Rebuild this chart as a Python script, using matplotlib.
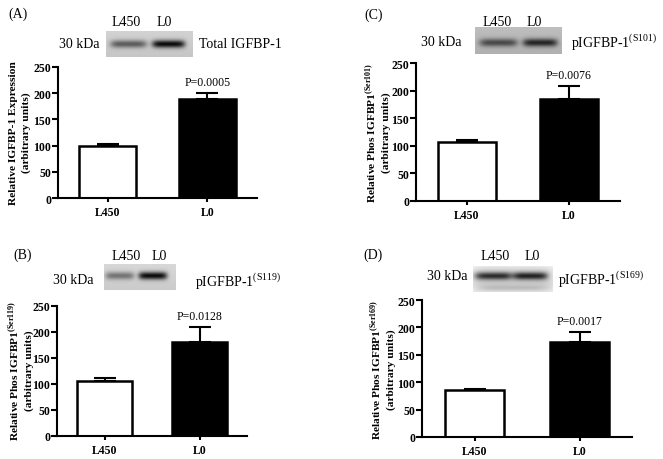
import numpy as np
import matplotlib
matplotlib.use("Agg")
import matplotlib.pyplot as plt

plt.rcParams['font.family'] = ['Liberation Serif', 'DejaVu Serif']
plt.rcParams['mathtext.fontset'] = 'custom'
plt.rcParams['mathtext.rm'] = 'Liberation Serif'
plt.rcParams['mathtext.bf'] = 'Liberation Serif:bold'

# data
groups = ['L450', 'L0']
total_mean = [100, 188]
total_err = [4, 12]
s119_mean = [106, 181]
s119_err = [5, 29]
s101_mean = [107, 184]
s101_err = [3, 25]
s169_mean = [86, 173]
s169_err = [2, 18]
p_values = ['P=0.0005', 'P=0.0128', 'P=0.0076', 'P=0.0017']

# relative band darkness of the western blots (L450, L0)
band_total = [0.55, 0.95]
band_s119 = [0.45, 0.95]
band_s101 = [0.60, 0.80]
band_s169 = [0.80, 0.85]

W, H = 663, 460
fig = plt.figure(figsize=(W / 100, H / 100), dpi=100)


def rect(x0, y0, x1, y1):
    return [x0 / W, 1 - y1 / H, (x1 - x0) / W, (y1 - y0) / H]


def ftext(x, y, s, **kw):
    fig.text(x / W, 1 - y / H, s, **kw)


def draw_blot(box, lanes, bands, bg, band_y=0.5, blur_edges=False):
    x0, y0, x1, y1 = box
    ax = fig.add_axes(rect(x0, y0, x1, y1))
    w, h = int((x1 - x0) * 3), int((y1 - y0) * 3)
    xx, yy = np.meshgrid(np.linspace(0, 1, w), np.linspace(0, 1, h))
    img = np.full((h, w), bg)
    # slightly lighter top, darker bottom
    img += 0.05 * (0.5 - yy)
    for (c, hw), amp in zip(lanes, bands):
        prof = np.exp(-((xx - c) / hw) ** 6) * np.exp(-((yy - band_y) / 0.15) ** 2)
        img -= amp * bg * prof
    if blur_edges:
        img += (1 - img) * (1 - np.exp(-((yy - 0.5) / 0.55) ** 4) * np.exp(-((xx - 0.5) / 0.55) ** 8))
        img -= 0.08 * np.exp(-((yy - 0.85) / 0.1) ** 2) * np.exp(-((xx - 0.5) / 0.4) ** 6)
    ax.imshow(np.clip(img, 0, 1), cmap='gray', vmin=0, vmax=1, aspect='auto',
              interpolation='bilinear')
    ax.set_axis_off()


def draw_bars(box, means, errs, ptxt):
    ax = fig.add_axes(rect(*box))
    x = np.arange(len(groups))
    ax.errorbar(x, means, yerr=[[0, 0], errs], fmt='none', ecolor='black',
                elinewidth=1.5, capsize=8, capthick=1.5, zorder=1)
    ax.bar(x, means, width=0.57, color=['white', 'black'], edgecolor='black',
           linewidth=1.8, zorder=2)
    ax.set_xlim(-0.5, 1.5)
    ax.set_ylim(0, 250)
    ax.set_yticks(range(0, 251, 50))
    ax.set_xticks(x)
    ax.set_xticklabels(groups)
    for sp in ['top', 'right']:
        ax.spines[sp].set_visible(False)
    for sp in ['left', 'bottom']:
        ax.spines[sp].set_linewidth(1.5)
    ax.tick_params(axis='y', length=4, width=1.5, pad=1)
    ax.tick_params(axis='x', length=3, width=1.5, pad=3)
    for lab in ax.get_xticklabels() + ax.get_yticklabels():
        lab.set_fontweight('bold')
        lab.set_fontsize(8.5)
    top = means[1] + errs[1]
    ax.text(1, top + 9, ptxt, ha='center', va='bottom', fontsize=8.5)
    return ax


def ylab(x, y, s):
    ftext(x, y, s, fontsize=8.2, fontweight='bold', rotation=90, ha='center',
          va='center', multialignment='center', linespacing=1.4)


# (A) total IGFBP-1
ftext(8, 14, '(A)', fontsize=10, va='center')
ftext(126, 22, 'L450', fontsize=10, ha='center', va='center')
ftext(164, 22, 'L0', fontsize=10, ha='center', va='center')
ftext(79, 44, '30 kDa', fontsize=10, ha='center', va='center')
ftext(199, 44, 'Total IGFBP-1', fontsize=10, va='center')
draw_blot((106, 32, 193, 58), [(0.26, 0.21), (0.72, 0.19)], band_total, 0.80)
draw_bars((58, 68, 257, 199), total_mean, total_err, p_values[0])
ylab(20, 133, 'Relative IGFBP-1 Expression\n(arbitrary units)')

# (B) S119
ftext(13, 255, '(B)', fontsize=10, va='center')
ftext(126, 256, 'L450', fontsize=10, ha='center', va='center')
ftext(159, 256, 'L0', fontsize=10, ha='center', va='center')
ftext(73, 280, '30 kDa', fontsize=10, ha='center', va='center')
ftext(195, 282, 'pIGFBP-1$^{\\mathrm{(S119)}}$', fontsize=10, va='center')
draw_blot((104, 265, 176, 291), [(0.22, 0.2), (0.68, 0.2)], band_s119, 0.82, band_y=0.45)
draw_bars((57, 307, 247, 437), s119_mean, s119_err, p_values[1])
ylab(20, 371, 'Relative Phos IGFBP1$^{\\mathbf{(Ser119)}}$\n(arbitrary units)')

# (C) S101
ftext(364, 15, '(C)', fontsize=10, va='center')
ftext(497, 22, 'L450', fontsize=10, ha='center', va='center')
ftext(534, 22, 'L0', fontsize=10, ha='center', va='center')
ftext(441, 43, '30 kDa', fontsize=10, ha='center', va='center')
ftext(571, 43, 'pIGFBP-1$^{\\mathrm{(S101)}}$', fontsize=10, va='center')
draw_blot((475, 28, 562, 55), [(0.27, 0.22), (0.75, 0.2)], band_s101, 0.72, band_y=0.58)
draw_bars((416, 64, 620, 202), s101_mean, s101_err, p_values[2])
ylab(377, 133, 'Relative Phos IGFBP1$^{\\mathbf{(Ser101)}}$\n(arbitrary units)')

# (D) S169
ftext(363, 255, '(D)', fontsize=10, va='center')
ftext(495, 257, 'L450', fontsize=10, ha='center', va='center')
ftext(532, 257, 'L0', fontsize=10, ha='center', va='center')
ftext(447, 277, '30 kDa', fontsize=10, ha='center', va='center')
ftext(558, 280, 'pIGFBP-1$^{\\mathrm{(S169)}}$', fontsize=10, va='center')
draw_blot((473, 267, 553, 293), [(0.25, 0.24), (0.72, 0.22)], band_s169, 0.80,
          band_y=0.38, blur_edges=True)
draw_bars((422, 301, 632, 438), s169_mean, s169_err, p_values[3])
ylab(382, 370, 'Relative Phos IGFBP1$^{\\mathbf{(Ser169)}}$\n(arbitrary units)')

fig.savefig('out.png', dpi=100)
